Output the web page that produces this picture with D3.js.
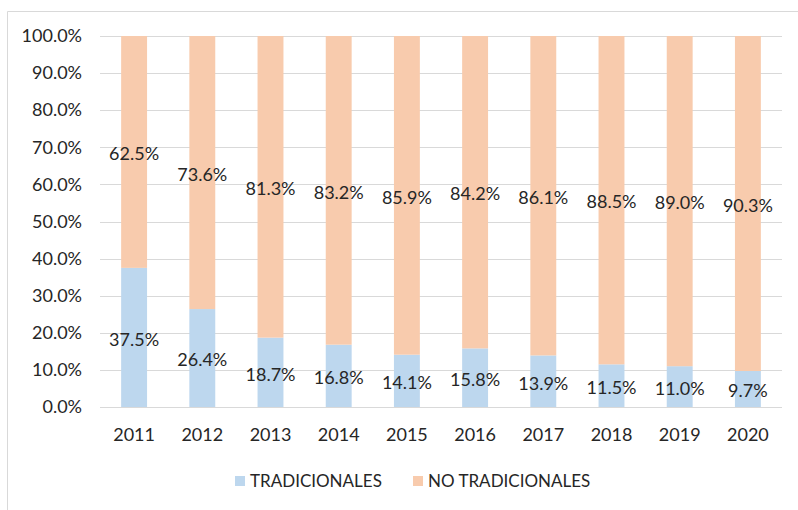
<!DOCTYPE html>
<html>
<head>
<meta charset="utf-8">
<script src="https://cdn.jsdelivr.net/npm/d3@7"></script>
<style>
  body { margin: 0; background: #fff; }
  text { font-family: Lato, "Open Sans", sans-serif; fill: #262626; }
</style>
</head>
<body>
<div id="chart"></div>
<script>
// data
var years = ["2011", "2012", "2013", "2014", "2015", "2016", "2017", "2018", "2019", "2020"];
var tradicionales = [37.5, 26.4, 18.7, 16.8, 14.1, 15.8, 13.9, 11.5, 11.0, 9.7];
var noTradicionales = [62.5, 73.6, 81.3, 83.2, 85.9, 84.2, 86.1, 88.5, 89.0, 90.3];
var seriesNames = ["TRADICIONALES", "NO TRADICIONALES"];
var yTicks = [0, 10, 20, 30, 40, 50, 60, 70, 80, 90, 100];

var colors = ["#BDD7EE", "#F8CBAD"];

var width = 798, height = 510;
var margin = {top: 36, right: 16, bottom: 103, left: 100};
var innerWidth = width - margin.left - margin.right,
    innerHeight = height - margin.top - margin.bottom;

var svg = d3.select("#chart").append("svg")
    .attr("width", width)
    .attr("height", height);

// chart frame (only top and left edges show)
svg.append("path")
    .attr("d", "M7.5,510 V11.5 H798")
    .attr("fill", "none")
    .attr("stroke", "#d9d9d9")
    .attr("stroke-width", 1);

var g = svg.append("g")
    .attr("transform", "translate(" + margin.left + "," + margin.top + ")");

var x = d3.scaleBand()
    .domain(years)
    .range([0, innerWidth])
    .paddingInner(0.62)
    .paddingOuter(0.31);

var y = d3.scaleLinear()
    .domain([0, 100])
    .range([innerHeight, 0]);

// gridlines
g.selectAll(".grid")
    .data(yTicks)
  .enter().append("line")
    .attr("x1", 0)
    .attr("x2", innerWidth)
    .attr("y1", function(d) { return Math.round(y(d)) + 0.5; })
    .attr("y2", function(d) { return Math.round(y(d)) + 0.5; })
    .attr("stroke", "#d9d9d9")
    .attr("stroke-width", 1);

// y axis labels
var yAxis = d3.axisLeft(y)
    .tickValues(yTicks)
    .tickSize(0)
    .tickPadding(18)
    .tickFormat(function(d) { return d.toFixed(1) + "%"; });
var yAxisG = g.append("g").call(yAxis);
yAxisG.select(".domain").remove();
yAxisG.selectAll("text")
    .style("font-size", "18px")
    .style("font-family", "Lato, 'Open Sans', sans-serif")
    .attr("fill", "#262626");

// x axis labels
var xAxis = d3.axisBottom(x).tickSize(0).tickPadding(21);
var xAxisG = g.append("g")
    .attr("transform", "translate(0," + innerHeight + ")")
    .call(xAxis);
xAxisG.select(".domain").remove();
xAxisG.selectAll("text")
    .style("font-size", "18px")
    .style("font-family", "Lato, 'Open Sans', sans-serif")
    .attr("fill", "#262626");

// stacked data
var rows = years.map(function(yr, i) {
  return {year: yr, t: tradicionales[i], n: noTradicionales[i]};
});
var stack = d3.stack().keys(["t", "n"]);
var stacked = stack(rows);

var layers = g.selectAll(".layer")
    .data(stacked)
  .enter().append("g")
    .attr("fill", function(d, i) { return colors[i]; });

layers.selectAll("rect")
    .data(function(d) { return d; })
  .enter().append("rect")
    .attr("x", function(d) { return x(d.data.year); })
    .attr("width", x.bandwidth())
    .attr("y", function(d) { return y(d[1]); })
    .attr("height", function(d) { return y(d[0]) - y(d[1]); });

// data labels centred in each segment
layers.selectAll("text")
    .data(function(d) { return d.map(function(p) { return {p: p, key: d.key}; }); })
  .enter().append("text")
    .attr("x", function(d) { return x(d.p.data.year) + x.bandwidth() / 2; })
    .attr("y", function(d) { return y((d.p[0] + d.p[1]) / 2) + 2; })
    .attr("dy", "0.35em")
    .attr("text-anchor", "middle")
    .style("font-size", "18px")
    .text(function(d) { return d.p.data[d.key].toFixed(1) + "%"; });

// legend
var legendItems = [
  {name: seriesNames[0], color: colors[0], x: 235},
  {name: seriesNames[1], color: colors[1], x: 413}
];
var legend = svg.append("g").attr("transform", "translate(0,481)");
legendItems.forEach(function(d) {
  legend.append("rect")
      .attr("x", d.x)
      .attr("y", -5)
      .attr("width", 10)
      .attr("height", 10)
      .attr("fill", d.color);
  legend.append("text")
      .attr("x", d.x + 15)
      .attr("y", 0)
      .attr("dy", "0.35em")
      .style("font-size", "17px")
      .text(d.name);
});
</script>
</body>
</html>
